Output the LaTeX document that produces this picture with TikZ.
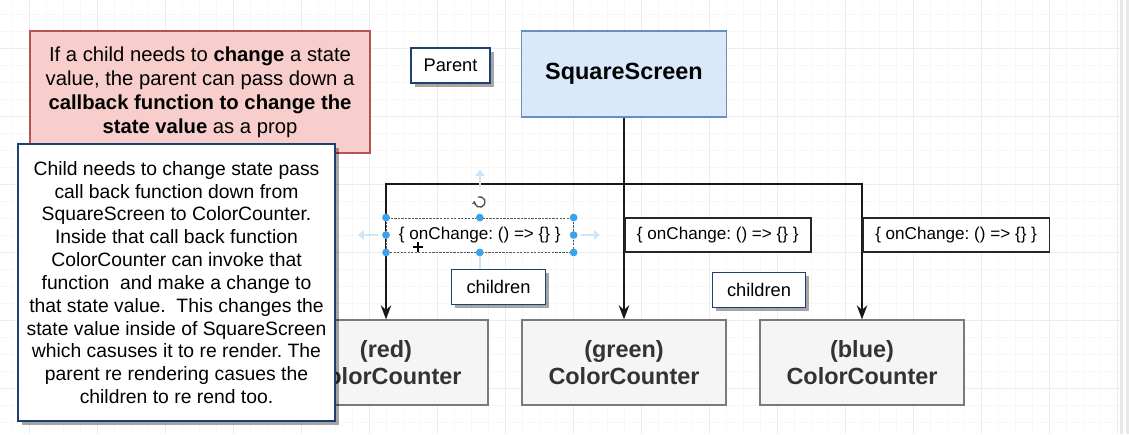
\documentclass[tikz,border=0pt]{standalone}
\usepackage{fontspec}
\setmainfont{Liberation Sans}
\usetikzlibrary{arrows.meta,shadows}
\frenchspacing

\definecolor{hintfill}{HTML}{F8CECC}
\definecolor{hintdraw}{HTML}{B85450}
\definecolor{rootfill}{HTML}{DAE8FC}
\definecolor{rootdraw}{HTML}{6C8EBF}
\definecolor{kidfill}{HTML}{F5F5F5}
\definecolor{kiddraw}{HTML}{7A7A7A}
\definecolor{kidtext}{HTML}{333333}
\definecolor{notedraw}{HTML}{1F3F73}
\definecolor{handle}{HTML}{3AA3E8}
\definecolor{handlearrow}{HTML}{CDE5F7}

\tikzset{
  gridminor/.style={draw=black!3,line width=0.6pt},
  gridmajor/.style={draw=black!7,line width=0.7pt},
  wire/.style={draw=black!90,line width=1.4pt},
  shadowed/.style={drop shadow={shadow xshift=3pt,shadow yshift=-3pt,fill=black,opacity=0.35}},
  hintbox/.style={draw=hintdraw,line width=1pt,fill=hintfill,align=center,
    minimum width=10.2cm,minimum height=3.66cm,inner sep=0pt,
    font=\fontsize{17.3}{20.4}\selectfont},
  rootbox/.style={draw=rootdraw,line width=1pt,fill=rootfill,
    minimum width=6.15cm,minimum height=2.58cm,inner sep=0pt,
    font=\fontsize{20}{24}\selectfont\bfseries},
  counter/.style={draw=kiddraw,line width=1.1pt,fill=kidfill,text=kidtext,align=center,
    minimum width=6.12cm,minimum height=2.55cm,inner sep=0pt,
    font=\fontsize{20}{22.5}\selectfont\bfseries},
  prop/.style={draw=black!85,line width=1.3pt,fill=white,anchor=west,
    minimum width=5.6cm,minimum height=1.02cm,inner sep=0pt,
    font=\fontsize{14.6}{17}\selectfont},
  tagbox/.style={draw=notedraw,line width=0.9pt,fill=white,shadowed,
    minimum width=2.8cm,minimum height=1.07cm,inner sep=0pt,
    font=\fontsize{15.6}{18}\selectfont},
  notebox/.style={draw=notedraw,line width=0.9pt,fill=white,shadowed,align=center,
    minimum width=9.51cm,minimum height=8.31cm,inner sep=0pt,
    font=\fontsize{16.5}{19.5}\selectfont}
}

\begin{document}
\begin{tikzpicture}[x=0.03cm,y=-0.03cm]
\useasboundingbox (0,0) rectangle (1129,434);
\foreach \gx in {12,29,...,1120} \draw[gridminor] (\gx,0) -- (\gx,434);
\foreach \gy in {14,31,...,434} \draw[gridminor] (0,\gy) -- (1120,\gy);
\foreach \gx in {29,97,...,1120} \draw[gridmajor] (\gx,0) -- (\gx,434);
\foreach \gy in {48,116,...,434} \draw[gridmajor] (0,\gy) -- (1120,\gy);
\fill[black!9] (1120,0) rectangle (1122.5,434);
\fill[black!9] (1126,0) rectangle (1128.5,434);

\node[rootbox] (screen) at (624,74) {SquareScreen};
\node[counter] (red) at (386,362.5) {(red)\\ColorCounter};
\node[counter] (green) at (624,362.5) {(green)\\ColorCounter};
\node[counter] (blue) at (862,362.5) {(blue)\\ColorCounter};
\coordinate (split) at (624,184);

\draw[wire] (screen.south) -- (split);
\draw[wire,-{Stealth[length=12pt,width=9pt]}] (split) -| (red.north);
\draw[wire,-{Stealth[length=12pt,width=9pt]}] (split) -- (green.north);
\draw[wire,-{Stealth[length=12pt,width=9pt]}] (split) -| (blue.north);

\node[prop,draw=black!65,line width=0.8pt,dash pattern=on 2pt off 1pt] (cb1) at (386,235) {\{ onChange: () => \{\} \}};
\node[prop,minimum width=5.58cm] (cb2) at (624,235) {\{ onChange: () => \{\} \}};
\node[prop] (cb3) at (862,235) {\{ onChange: () => \{\} \}};

\draw[handlearrow,line width=2pt,-{Triangle[length=5pt,width=8pt]}] (480,187) -- (480,170);
\draw[handlearrow,line width=2pt,-{Triangle[length=5pt,width=8pt]}] (378,235) -- (358,235);
\draw[handlearrow,line width=2pt,-{Triangle[length=5pt,width=8pt]}] (581,235) -- (600,235);
\draw[handlearrow,line width=2pt] (480,253) -- (480,270);
\draw[black!70,line width=1.1pt,-{Stealth[length=3pt,width=4pt]}] (478,197) arc[start angle=110,end angle=-190,radius=4.5pt];
\foreach \a in {north west,north,north east,east,south east,south,south west,west}
  \fill[handle] (cb1.\a) circle (3.3pt);
\draw[black,line width=1pt] (413,247) -- (423,247) (418,242) -- (418,252);

\node[hintbox] (hint) at (200,92) {If a child needs to \textbf{change} a state\\value, the parent can pass down a\\\textbf{callback function to change the}\\\textbf{state value} as a prop};
\node[tagbox,minimum width=2.37cm,minimum height=1.05cm] (parent) at (450.5,65.5) {Parent};
\node[tagbox] (kids1) at (498.5,287) {children};
\node[tagbox] (kids2) at (759,290) {children};
\node[notebox] (note) at (176.5,282.5) {Child needs to change state pass\\call back function down from\\SquareScreen to ColorCounter.\\Inside that call back function\\ColorCounter can invoke that\\function~ and make a change to\\that state value.~ This changes the\\state value inside of SquareScreen\\which casuses it to re render. The\\parent re rendering casues the\\children to re rend too.};
\end{tikzpicture}
\end{document}
